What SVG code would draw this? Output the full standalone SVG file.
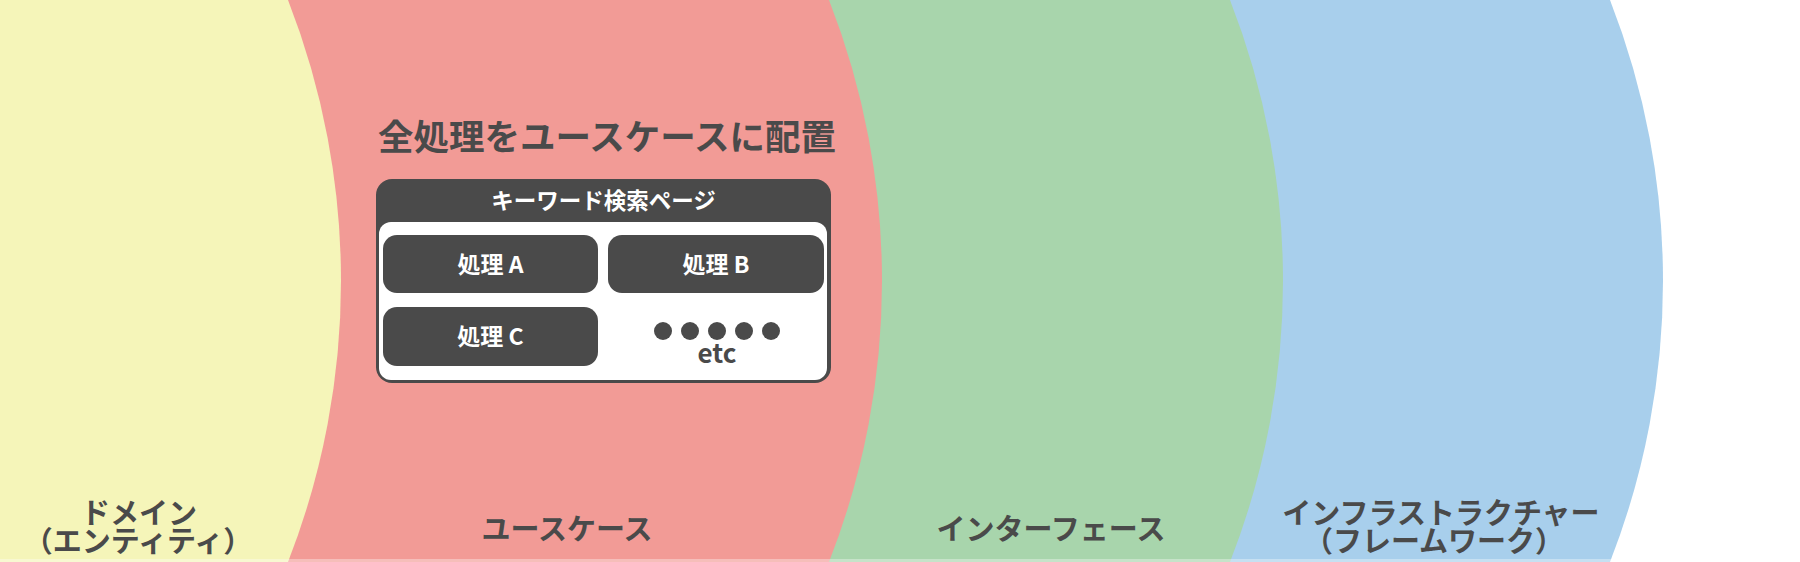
<svg xmlns="http://www.w3.org/2000/svg" width="1800" height="562" viewBox="0 0 1800 562">
  <style>
    .t { font-family: "Noto Sans CJK JP", "Noto Sans", sans-serif; font-weight: bold; fill: #4a4a4a; text-anchor: middle; }
    .w { fill: #ffffff; }
    .layer-label { font-size: 29px; }
    .dark { fill: #4a4a4a; }
  </style>
  <rect x="0" y="0" width="1800" height="562" fill="#ffffff"/>
  <g id="layers">
    <path id="infrastructure" d="M0 0 L1610 0 A771.4 771.4 0 0 1 1610 562 L0 562 Z" fill="#a8cfec"/>
    <path id="interface" d="M0 0 L1230 0 A771.4 771.4 0 0 1 1230 562 L0 562 Z" fill="#a8d5ac"/>
    <path id="usecase" d="M0 0 L829 0 A771.4 771.4 0 0 1 829 562 L0 562 Z" fill="#f29b96"/>
    <path id="domain" d="M0 0 L288 0 A771.4 771.4 0 0 1 288 562 L0 562 Z" fill="#f5f5b9"/>
  </g>
  <rect x="0" y="559" width="1800" height="3" fill="#ffffff" opacity="0.35"/>

  <g id="title">
    <text class="t" x="607" y="150" font-size="35.5">全処理をユースケースに配置</text>
  </g>

  <g id="keyword-page">
    <rect x="376" y="179" width="455" height="204" rx="16" class="dark"/>
    <rect x="379" y="222" width="448" height="158" rx="12" fill="#ffffff"/>
    <text class="t w" x="603.5" y="209" font-size="22.5">キーワード検索ページ</text>
  </g>

  <g id="process-a">
    <rect x="383" y="235" width="215" height="58" rx="14" class="dark"/>
    <text class="t w" x="490.5" y="272.5" font-size="23">処理 A</text>
  </g>
  <g id="process-b">
    <rect x="608" y="235" width="216" height="58" rx="14" class="dark"/>
    <text class="t w" x="716" y="272.5" font-size="23">処理 B</text>
  </g>
  <g id="process-c">
    <rect x="383" y="307" width="215" height="59" rx="14" class="dark"/>
    <text class="t w" x="490.5" y="345" font-size="23">処理 C</text>
  </g>
  <g id="etc">
    <circle cx="663" cy="331" r="9" class="dark"/>
    <circle cx="690" cy="331" r="9" class="dark"/>
    <circle cx="717" cy="331" r="9" class="dark"/>
    <circle cx="744" cy="331" r="9" class="dark"/>
    <circle cx="771" cy="331" r="9" class="dark"/>
    <text class="t" x="717" y="363" font-size="26">etc</text>
  </g>

  <g id="label-domain">
    <text class="t layer-label"><tspan x="139" y="524">ドメイン</tspan><tspan x="138" y="552">（エンティティ）</tspan></text>
  </g>
  <g id="label-usecase">
    <text class="t layer-label" x="567" y="540">ユースケース</text>
  </g>
  <g id="label-interface">
    <text class="t layer-label" x="1051" y="540">インターフェース</text>
  </g>
  <g id="label-infrastructure">
    <text class="t layer-label"><tspan x="1441" y="524">インフラストラクチャー</tspan><tspan x="1434" y="552">（フレームワーク）</tspan></text>
  </g>
  <g id="connectors"/>
</svg>
